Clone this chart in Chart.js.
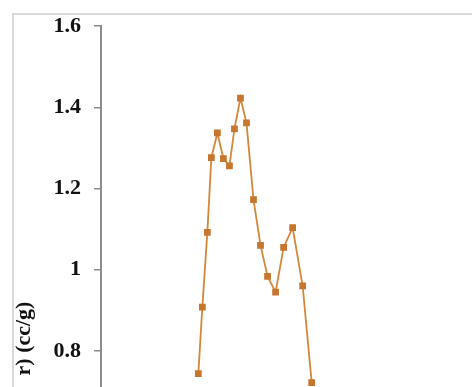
<!DOCTYPE html>
<html>
<head>
<meta charset="utf-8">
<script src="https://cdn.jsdelivr.net/npm/chart.js@4"></script>
<style>
  html, body { margin: 0; padding: 0; background: #fff; }
  #wrap { position: relative; width: 472px; height: 387px; overflow: hidden; background: #fff; }
  #frame { position: absolute; left: 12px; top: 13px; width: 600px; height: 700px;
           border-left: 2px solid #d9d9d9; border-top: 2px solid #d9d9d9; }
  #c { position: absolute; left: 0; top: 0; }
</style>
</head>
<body>
<div id="wrap">
  <div id="frame"></div>
  <canvas id="c" width="472" height="677"></canvas>
</div>
<script>
// Data (x positions along the unlabeled horizontal axis)
const xValues = [9.7, 10.1, 10.6, 11.0, 11.6, 12.2, 12.8, 13.3, 13.9, 14.5, 15.2, 15.9, 16.6, 17.4, 18.2, 19.1, 20.1, 21.0];
const yValues = [0.744, 0.908, 1.092, 1.276, 1.337, 1.274, 1.256, 1.347, 1.423, 1.362, 1.173, 1.060, 0.984, 0.945, 1.055, 1.104, 0.960, 0.722];
const yTicks = [0.8, 1, 1.2, 1.4, 1.6];
const yTitle = 'r) (cc/g)';
const yMin = 0.0613;
const yMax = 1.6;
const xMin = 0;
const xMax = 36.4;

const points = xValues.map((x, i) => ({ x: x, y: yValues[i] }));

new Chart(document.getElementById('c'), {
  type: 'line',
  data: {
    datasets: [{
      data: points,
      borderColor: '#D3873A',
      borderWidth: 1.8,
      backgroundColor: '#C6762F',
      pointBackgroundColor: '#C6762F',
      pointBorderColor: '#C6762F',
      pointStyle: 'rect',
      pointRadius: 3.5,
      tension: 0,
      fill: false
    }]
  },
  options: {
    responsive: false,
    devicePixelRatio: 1,
    animation: false,
    layout: { padding: { top: 24, left: 0, right: 0, bottom: 0 } },
    plugins: { legend: { display: false }, tooltip: { enabled: false } },
    scales: {
      x: {
        type: 'linear',
        display: false,
        min: xMin,
        max: xMax
      },
      y: {
        type: 'linear',
        min: yMin,
        max: yMax,
        afterBuildTicks: (scale) => { scale.ticks = yTicks.map(v => ({ value: v })); },
        afterFit: (scale) => { scale.width = 101; },
        ticks: {
          color: '#111',
          padding: 13,
          callback: (v) => String(v),
          font: { family: 'Liberation Serif', size: 22, weight: 'bold' }
        },
        grid: {
          drawOnChartArea: false,
          drawTicks: true,
          tickLength: 7,
          color: '#8c8c8c',
          lineWidth: 1.5
        },
        border: { display: true, color: '#8c8c8c', width: 2 },
        title: {
          display: true,
          text: yTitle,
          color: '#111',
          padding: { top: 11, bottom: 0 },
          font: { family: 'Liberation Serif', size: 22, weight: 'bold' }
        }
      }
    }
  }
});
</script>
</body>
</html>
